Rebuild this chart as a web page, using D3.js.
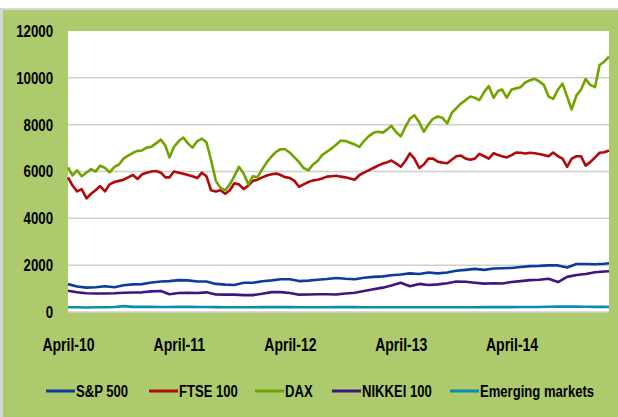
<!DOCTYPE html>
<html>
<head>
<meta charset="utf-8">
<script src="https://cdn.jsdelivr.net/npm/d3@7"></script>
<style>
  body { margin: 0; background: #ffffff; }
</style>
</head>
<body>
<div id='chart'></div>
<script>

// Series values
// DAX and FTSE 100: one value on the 1st and 16th of every month, Apr 2010 - Feb 2015
const daxValues = [
  6170,5830,6050,5800,5960,6100,6000,6250,6150,5960,
  6200,6300,6550,6680,6800,6880,6900,7020,7060,7200,
  7360,7100,6600,7050,7300,7450,7200,7020,7300,7400,
  7250,6500,5600,5300,5200,5450,5800,6200,5900,5450,
  5800,5750,6100,6400,6650,6850,6950,6950,6800,6600,
  6400,6150,6050,6300,6450,6700,6850,6980,7150,7320,
  7300,7230,7150,7050,7300,7500,7650,7700,7660,7800,
  7950,7700,7500,7900,8250,8400,8100,7700,8000,8250,
  8350,8300,8050,8500,8700,8900,9050,9200,9150,9050,
  9400,9650,9150,9450,9500,9150,9500,9550,9600,9800,
  9900,9960,9850,9700,9200,9100,9500,9750,9200,8650,
  9250,9500,9950,9700,9600,10550,10700,10900
];
const ftseValues = [
  5750,5400,5150,5250,4850,5050,5200,5380,5150,5450,
  5550,5600,5650,5750,5850,5680,5880,5950,6000,6020,
  5950,5750,5750,6000,5950,5900,5850,5800,5720,5950,
  5800,5200,5150,5200,5050,5200,5500,5450,5250,5400,
  5600,5650,5750,5830,5880,5910,5850,5760,5720,5600,
  5350,5450,5550,5620,5650,5700,5780,5800,5820,5780,
  5750,5700,5650,5850,5950,6050,6150,6250,6340,6400,
  6470,6350,6200,6450,6770,6550,6150,6300,6550,6550,
  6420,6380,6350,6500,6650,6680,6550,6500,6550,6750,
  6650,6550,6780,6700,6650,6600,6700,6810,6800,6770,
  6800,6780,6750,6700,6650,6810,6650,6550,6200,6550,
  6650,6650,6250,6400,6600,6800,6820,6900
];
// S&P 500, NIKKEI 100, Emerging markets: one value per month, plus mid Feb 2015
const spValues = [
  1190,1090,1040,1060,1100,1060,1140,1180,1190,1260,
  1300,1320,1360,1350,1300,1300,1200,1170,1150,1250,
  1250,1310,1350,1400,1400,1320,1340,1380,1410,1450,
  1420,1400,1460,1500,1520,1570,1600,1650,1620,1690,
  1650,1690,1760,1800,1840,1800,1860,1870,1880,1920,
  1960,1970,1990,1990,1900,2050,2050,2040,2060,2080
];
const nikkeiValues = [
  910,840,800,790,790,800,820,830,840,880,
  900,760,810,820,810,840,750,740,740,720,
  720,780,850,850,810,740,750,760,760,750,
  790,820,900,970,1040,1130,1250,1100,1200,1150,
  1180,1230,1300,1290,1250,1210,1230,1220,1280,1320,
  1360,1380,1420,1280,1500,1580,1620,1700,1730,1740
];
const emValues = [
  200,200,195,200,205,215,250,220,220,220,
  215,215,220,220,215,215,210,205,200,205,
  205,210,210,215,210,205,200,205,205,210,
  210,210,205,205,200,200,200,200,200,200,
  200,205,205,205,205,210,210,210,210,215,
  215,215,225,230,230,230,225,220,220,215
];

// Categories / ticks
const seriesNames = ['S&P 500', 'FTSE 100', 'DAX', 'NIKKEI 100', 'Emerging markets'];
const seriesColors = ['#0b3c9e', '#b20a0a', '#72a400', '#3f1480', '#0b8bb5'];
const yTicks = [0, 2000, 4000, 6000, 8000, 10000, 12000];
const xTickDates = [new Date(2010, 3, 1), new Date(2011, 3, 1), new Date(2012, 3, 1),
                    new Date(2013, 3, 1), new Date(2014, 3, 1)];

// Date grids
const startDate = new Date(2010, 3, 1);
const endDate = new Date(2015, 1, 16);
const monthStarts = d3.timeMonth.range(startDate, new Date(2015, 2, 1));
const monthDates = monthStarts.concat([endDate]);
const halfMonthDates = [];
monthStarts.forEach(d => {
  halfMonthDates.push(d);
  halfMonthDates.push(new Date(d.getFullYear(), d.getMonth(), 16));
});

const seriesData = [
  {name: seriesNames[0], color: seriesColors[0], dates: monthDates, values: spValues},
  {name: seriesNames[1], color: seriesColors[1], dates: halfMonthDates, values: ftseValues},
  {name: seriesNames[2], color: seriesColors[2], dates: halfMonthDates, values: daxValues},
  {name: seriesNames[3], color: seriesColors[3], dates: monthDates, values: nikkeiValues},
  {name: seriesNames[4], color: seriesColors[4], dates: monthDates, values: emValues}
];

// Page Dimensions
const W = 618, H = 417;
const plot = {left: 68, right: 609, top: 31, bottom: 312};
const font_family = '"Liberation Sans", Arial, sans-serif';
const bgGreen = '#adcb6c';
const gridColor = '#cfcfcf';

// The original text is a tall narrow face: squash it horizontally around its x anchor
const condense = (squeeze) => (sel) => {
  sel.each(function() {
    const ax = +d3.select(this).attr('x') || 0;
    d3.select(this)
      .attr('transform', `translate(${ax},0) scale(${squeeze},1) translate(${-ax},0)`);
  });
};

const svg = d3.select('#chart').append('svg')
  .attr('width', W)
  .attr('height', H);

// Frame and background
svg.append('rect')
  .attr('x', 0).attr('y', 8)
  .attr('width', W).attr('height', H - 8)
  .attr('fill', '#d6d6d6');
svg.append('rect')
  .attr('x', 3).attr('y', 10)
  .attr('width', W - 3).attr('height', H - 10)
  .attr('fill', bgGreen);
svg.append('rect')
  .attr('x', plot.left).attr('y', plot.top)
  .attr('width', plot.right - plot.left).attr('height', plot.bottom - plot.top)
  .attr('fill', '#ffffff');

// Scales
const x = d3.scaleTime()
  .domain([startDate, endDate])
  .range([plot.left, plot.right]);
const y = d3.scaleLinear()
  .domain([0, 12000])
  .range([plot.bottom, plot.top]);

// Gridlines
svg.append('g')
  .selectAll('line')
  .data(yTicks.filter(t => t < 12000))
  .enter()
  .append('line')
  .attr('x1', plot.left)
  .attr('x2', plot.right)
  .attr('y1', d => y(d))
  .attr('y2', d => y(d))
  .style('stroke', gridColor)
  .style('stroke-width', 1.5);

// Y axis labels
const yAxis = svg.append('g')
  .attr('transform', `translate(${plot.left},0)`)
  .call(d3.axisLeft(y).tickValues(yTicks).tickSize(0).tickPadding(15).tickFormat(d3.format('d')));
yAxis.select('.domain').remove();
yAxis.selectAll('text')
  .attr('font-family', font_family)
  .attr('font-weight', 'bold')
  .attr('font-size', '17px')
  .attr('fill', '#000')
  .call(condense(0.78));

// X axis labels
const xAxis = svg.append('g')
  .attr('transform', `translate(0,${plot.bottom})`)
  .call(d3.axisBottom(x).tickValues(xTickDates).tickSize(0).tickPadding(26)
        .tickFormat(d => 'April-' + d3.timeFormat('%y')(d)));
xAxis.select('.domain').remove();
xAxis.selectAll('text')
  .attr('font-family', font_family)
  .attr('font-weight', 'bold')
  .attr('font-size', '18px')
  .attr('fill', '#000')
  .call(condense(0.78));

// Lines
const line = d3.line()
  .x(d => x(d[0]))
  .y(d => y(d[1]));

svg.append('g')
  .selectAll('path')
  .data(seriesData)
  .enter()
  .append('path')
  .attr('d', s => line(s.dates.map((d, i) => [d, s.values[i]])))
  .style('fill', 'none')
  .style('stroke', s => s.color)
  .style('stroke-width', 2.6)
  .style('stroke-linejoin', 'round');

// Legend
const legendX = [46, 149, 255, 332, 450];
const legendY = 391;
const legend = svg.append('g')
  .selectAll('g')
  .data(seriesData)
  .enter()
  .append('g')
  .attr('transform', (d, i) => `translate(${legendX[i]},${legendY})`);

legend.append('line')
  .attr('x1', 0).attr('x2', 29)
  .attr('y1', 0).attr('y2', 0)
  .style('stroke', d => d.color)
  .style('stroke-width', 3);

legend.append('text')
  .text(d => d.name)
  .attr('x', 30)
  .attr('dy', '0.36em')
  .attr('font-family', font_family)
  .attr('font-weight', 'bold')
  .attr('font-size', '17px')
  .attr('fill', '#000')
  .call(condense(0.77));

</script>
</body>
</html>
